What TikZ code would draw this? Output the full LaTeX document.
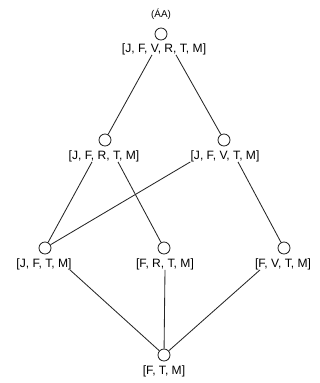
\documentclass[tikz,border=0pt]{standalone}
\usepackage{fontspec}
\setmainfont{Liberation Sans}
\usetikzlibrary{calc}

\begin{document}
\begin{tikzpicture}[
    x=0.025cm, y=-0.025cm,
    state/.style={draw=black!85, circle, minimum size=0.3cm, inner sep=0pt, line width=0.6pt},
    setlbl/.style={inner sep=0pt, font=\fontsize{8.6}{10}\selectfont},
    toplbl/.style={inner sep=0pt, font=\fontsize{7}{8}\selectfont},
    link/.style={draw=black!85, line width=0.6pt},
]
\useasboundingbox (0,0) rectangle (320,383);

% Grid layout (pixel units, y downwards)
% rows : 34=top, 141=second, 249=third, 355=bottom

\node[toplbl]  at (161, 14)  (name)     {(ÁA)};
\node[state]   at (161, 34)  (jfvrtm)   {};
\node[setlbl]  at (164, 49)  (jfvrtm-t) {[J, F, V, R, T, M]};

\node[state]   at (105, 140) (jfrtm)    {};
\node[setlbl]  at (104, 156) (jfrtm-t)  {[J, F, R, T, M]};
\node[state]   at (224, 140) (jfvtm)    {};
\node[setlbl]  at (225, 156) (jfvtm-t)  {[J, F, V, T, M]};

\node[state]   at (45, 248)  (jftm)     {};
\node[setlbl]  at (44, 264)  (jftm-t)   {[J, F, T, M]};
\node[state]   at (164, 248) (frtm)     {};
\node[setlbl]  at (165, 264) (frtm-t)   {[F, R, T, M]};
\node[state]   at (284, 248) (fvtm)     {};
\node[setlbl]  at (283, 264) (fvtm-t)   {[F, V, T, M]};

\node[state]   at (164, 355) (ftm)      {};
\node[setlbl]  at (164, 371) (ftm-t)    {[F, T, M]};

% top level
\draw[link] ($(jfvrtm-t.south)+(-12,0)$) -- (jfrtm);
\draw[link] ($(jfvrtm-t.south)+(12,0)$)  -- (jfvtm);

% second level
\draw[link] ($(jfrtm-t.south)+(-12,0)$) -- (jftm);
\draw[link] ($(jfrtm-t.south)+(14,0)$)  -- (frtm);
\draw[link] (jfvtm-t.south west)         -- (jftm);
\draw[link] ($(jfvtm-t.south)+(13,0)$)  -- (fvtm);

% third level
\draw[link] ($(jftm-t.south)+(26,0)$)  -- (ftm);
\draw[link] (frtm-t.south)              -- (ftm);
\draw[link] ($(fvtm-t.south)+(-23,0)$) -- (ftm);
\end{tikzpicture}
\end{document}
